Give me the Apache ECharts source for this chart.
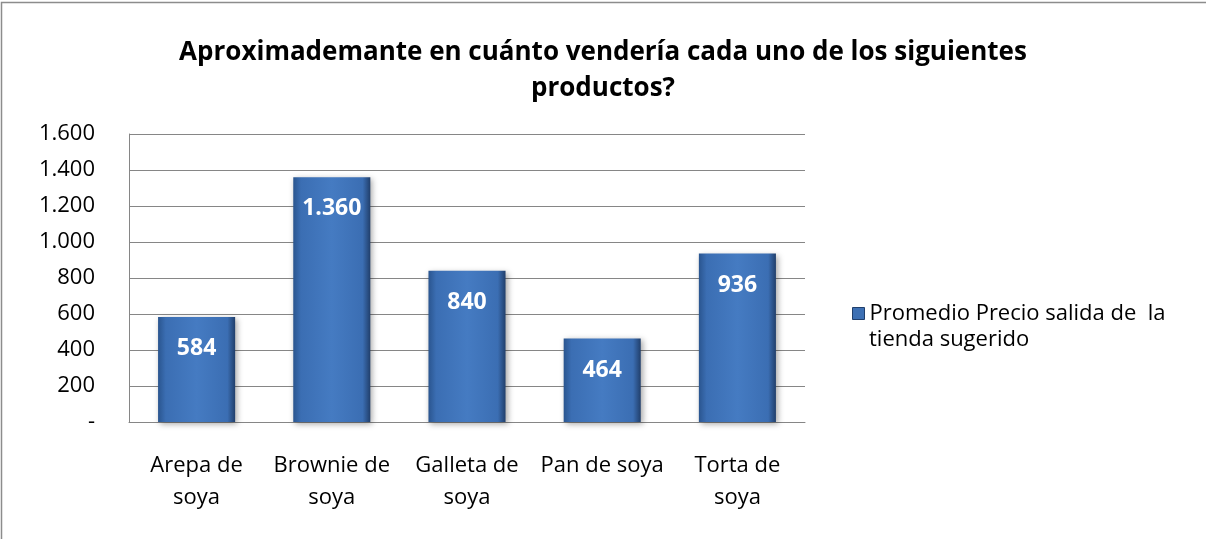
<!DOCTYPE html>
<html>
<head>
<meta charset="utf-8">
<script src="https://cdn.jsdelivr.net/npm/echarts@6/dist/echarts.min.js"></script>
<style>
    html, body { margin: 0; padding: 0; background: #fff; }
    #chart { width: 1206px; height: 539px; }
</style>
</head>
<body>
<div id="chart"></div>
<script>
// datos del grafico
var categorias = ['Arepa de\nsoya', 'Brownie de\nsoya', 'Galleta de\nsoya', 'Pan de soya', 'Torta de\nsoya'];
var precios = [584, 1360, 840, 464, 936];
var serieNombre = 'Promedio Precio salida de  la tienda sugerido';
var leyendaLineas = ['Promedio Precio salida de  la', 'tienda sugerido'];
var tituloTexto = 'Aproximademante en cuánto vendería cada uno de los siguientes\nproductos?';

// formato con punto de miles
function miles(v) {
    if (v === 0) return '-';
    return String(v).replace(/\B(?=(\d{3})+(?!\d))/g, '.');
}

var chart = echarts.init(document.getElementById('chart'));
var barColor = new echarts.graphic.LinearGradient(0, 0, 1, 0, [
    {offset: 0, color: '#2a558f'},
    {offset: 0.1, color: '#3b6eb3'},
    {offset: 0.5, color: '#457bc2'},
    {offset: 0.9, color: '#3b6eb3'},
    {offset: 1, color: '#213f6b'}
]);
var option = {
    backgroundColor: '#fff',
    animation: false,
    textStyle: {fontFamily: 'Open Sans, Liberation Sans, sans-serif'},
    graphic: [{
        type: 'rect',
        shape: {x: 1.5, y: 2.5, width: 1210, height: 540},
        style: {fill: 'none', stroke: '#8c8c8c', lineWidth: 1.5},
        silent: true
    }, {
        // segunda linea de la leyenda, alineada bajo el texto
        type: 'text',
        left: 869,
        top: 329,
        style: {text: leyendaLineas[1], fontSize: 22, fill: '#000', fontFamily: 'Open Sans, sans-serif'},
        silent: true
    }],
    title: {
        text: tituloTexto,
        left: 'center',
        top: 30,
        textStyle: {fontSize: 26, fontWeight: 'bold', color: '#000', lineHeight: 36, fontFamily: 'Open Sans, sans-serif'}
    },
    legend: {
        orient: 'vertical',
        left: 847,
        top: 292,
        itemWidth: 12,
        itemHeight: 12,
        itemGap: 4,
        textStyle: {fontSize: 22, color: '#000', lineHeight: 33},
        formatter: function () { return leyendaLineas[0]; },
        data: [{name: serieNombre, icon: 'rect', itemStyle: {color: '#3d70b4', borderColor: '#203f6c', borderWidth: 1}}]
    },
    grid: {left: 129, right: 401, top: 134, bottom: 117},
    xAxis: {
        type: 'category',
        data: categorias,
        axisLine: {show: true, lineStyle: {color: '#868686'}},
        axisTick: {show: false},
        axisLabel: {color: '#000', fontSize: 22, lineHeight: 32, margin: 28, interval: 0}
    },
    yAxis: {
        type: 'value',
        min: 0,
        max: 1600,
        interval: 200,
        axisLine: {show: true, lineStyle: {color: '#868686'}},
        axisTick: {show: false},
        splitLine: {lineStyle: {color: '#868686', width: 1}},
        axisLabel: {color: '#000', fontSize: 22, margin: 34, formatter: miles}
    },
    series: [{
        name: serieNombre,
        type: 'bar',
        data: precios,
        barWidth: '57%',
        itemStyle: {
            color: barColor,
            shadowColor: 'rgba(0,0,0,0.35)',
            shadowBlur: 6,
            shadowOffsetX: 2,
            shadowOffsetY: 2
        },
        label: {
            show: true,
            position: 'insideTop',
            distance: 20,
            color: '#fff',
            fontSize: 23,
            fontWeight: 'bold',
            formatter: function (p) { return miles(p.value); }
        }
    }]
};
chart.setOption(option);
</script>
</body>
</html>
